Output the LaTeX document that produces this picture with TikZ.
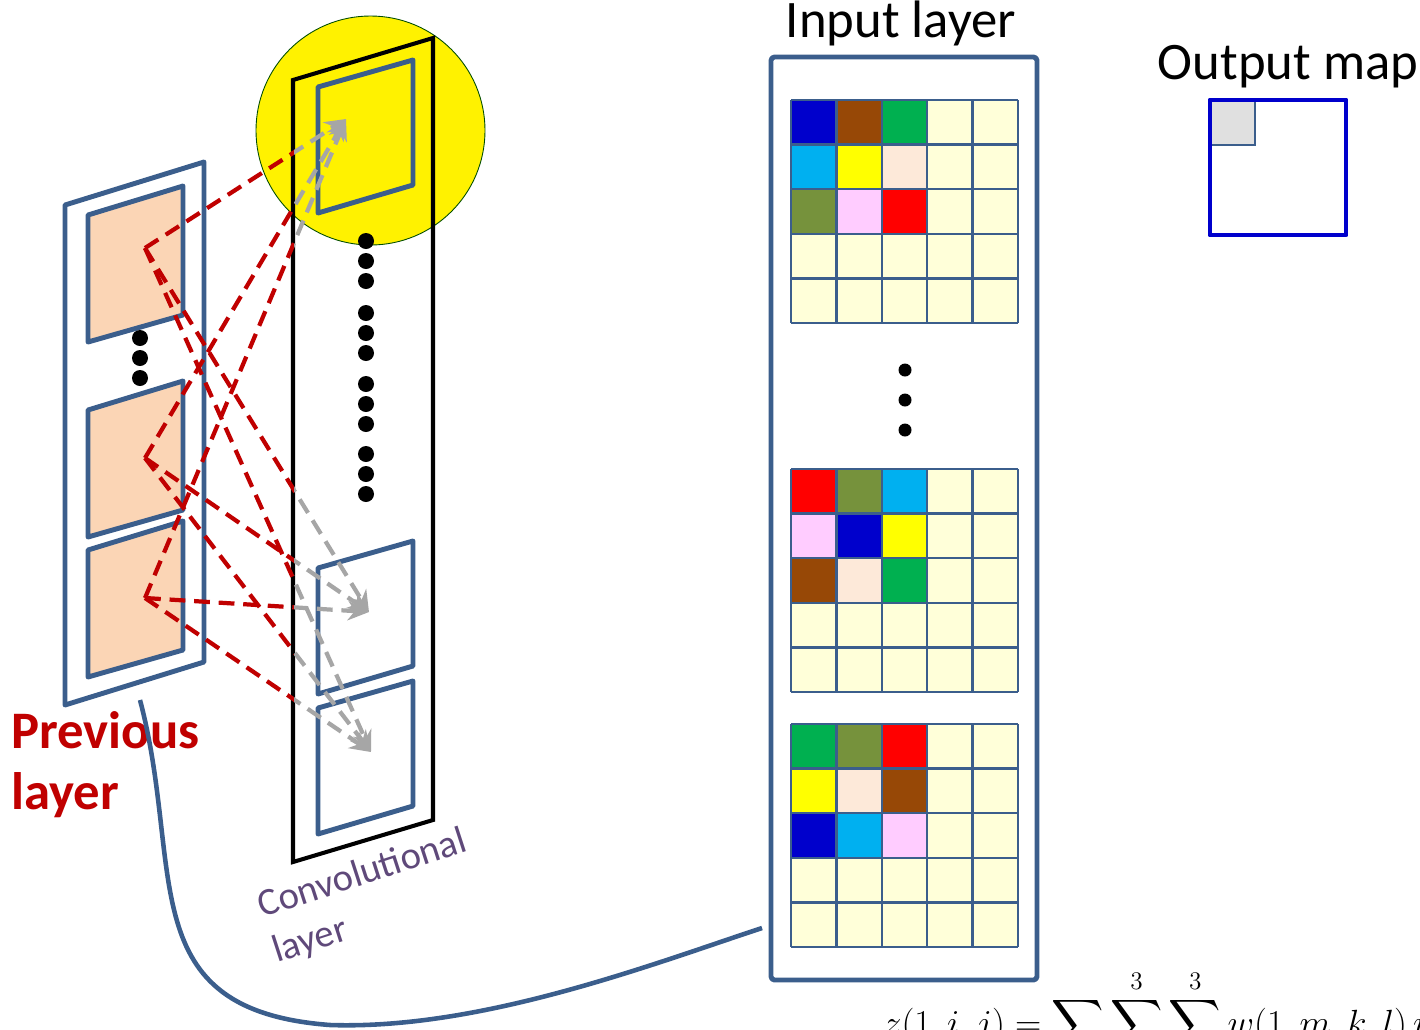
\documentclass[tikz,border=0pt]{standalone}
\usepackage{amsmath}
\usepackage{fontspec}
\setmainfont{Carlito}
\usetikzlibrary{arrows.meta}
\definecolor{slate}{RGB}{59,94,140}
\definecolor{darkred}{RGB}{192,0,0}
\definecolor{linkgray}{RGB}{166,166,166}
\definecolor{peach}{RGB}{251,213,181}
\definecolor{cream}{RGB}{255,255,217}
\definecolor{cblue}{RGB}{0,0,204}
\definecolor{cbrown}{RGB}{151,72,6}
\definecolor{cgreen}{RGB}{0,176,80}
\definecolor{ccyan}{RGB}{0,176,240}
\definecolor{cyellow}{RGB}{255,255,0}
\definecolor{cpeach}{RGB}{253,233,217}
\definecolor{colive}{RGB}{118,146,60}
\definecolor{cpink}{RGB}{255,204,255}
\definecolor{cred}{RGB}{255,0,0}
\definecolor{convtext}{RGB}{95,73,122}

\begin{document}
\begin{tikzpicture}[x=0.02cm,y=-0.02cm,
  frame/.style={draw=slate,line width=2.8pt,line join=round},
  convframe/.style={draw=black,line width=2.3pt,line join=miter},
  gridline/.style={draw=slate,line width=1.4pt},
  redlink/.style={draw=darkred,line width=2.4pt,dash pattern=on 9pt off 5pt},
  graylink/.style={draw=linkgray,line width=2.4pt,dash pattern=on 9pt off 5pt,
    -{Stealth[length=12pt,width=11pt]}},
  label/.style={font=\fontsize{30}{34}\selectfont,inner sep=0pt}]
\clip (0,0) rectangle (1420,1029);

% previous layer
\draw[frame] (65,205) -- (204,162) -- (204,662) -- (65,705) -- cycle;
\foreach \dy in {0,195,335}
  \draw[frame,fill=peach] (88,215+\dy) -- (183,186+\dy) -- (183,315+\dy) -- (88,342+\dy) -- cycle;
\foreach \y in {338,358,378}
  \fill (140,\y) circle (8);

% convolutional layer
\filldraw[fill=yellow,draw=black!70!green,line width=0.5pt] (370.5,130.5) circle (114.5);
\draw[convframe] (293,80) -- (433,38) -- (433,820) -- (293,862) -- cycle;
\draw[frame,fill=yellow] (318,87) -- (413,60) -- (413,185) -- (318,213) -- cycle;
\foreach \dy in {481,621}
  \draw[frame,fill=white] (318,87+\dy) -- (413,60+\dy) -- (413,185+\dy) -- (318,213+\dy) -- cycle;
\foreach \y in {241,261,281,313,333,353,384,404,424,454,474,494}
  \fill (366,\y) circle (8);

% links
\coordinate (p1) at (145,248);
\coordinate (p2) at (145,458);
\coordinate (p3) at (145,598);
\coordinate (t1) at (346,119);
\coordinate (t2) at (369,612);
\coordinate (t3) at (371,752);
\begin{scope}
  \clip (0,0) rectangle (294,1029);
  \foreach \s in {p1,p2,p3}
    \foreach \t in {t1,t2,t3}
      \draw[redlink] (\s) -- (\t);
\end{scope}
\begin{scope}
  \clip (294,0) rectangle (1420,1029);
  \foreach \s in {p1,p2,p3}
    \foreach \t in {t1,t2,t3}
      \draw[graylink] (\s) -- (\t);
\end{scope}

% input layer
\draw[frame,rounded corners=2pt] (771,57) rectangle (1037,980);
\foreach \oy/\cells in {100/{cblue,cbrown,cgreen,ccyan,cyellow,cpeach,colive,cpink,cred},
                        469/{cred,colive,ccyan,cpink,cblue,cyellow,cbrown,cpeach,cgreen},
                        724/{cgreen,colive,cred,cyellow,cpeach,cbrown,cblue,ccyan,cpink}} {
  \fill[cream] (791,\oy) rectangle (1018,\oy+223);
  \foreach \col [count=\i from 0] in \cells {
    \pgfmathtruncatemacro\cx{mod(\i,3)}
    \pgfmathtruncatemacro\cy{div(\i,3)}
    \fill[\col] (791+45.4*\cx,\oy+44.6*\cy) rectangle (836.4+45.4*\cx,\oy+44.6+44.6*\cy);
  }
  \foreach \k in {0,...,5} {
    \draw[gridline] (791+45.4*\k,\oy) -- (791+45.4*\k,\oy+223);
    \draw[gridline] (791,\oy+44.6*\k) -- (1018,\oy+44.6*\k);
  }
}
\foreach \y in {370,400,430}
  \fill (905,\y) circle (6.5);

% output map
\filldraw[fill=black!12,draw=slate,line width=1.4pt] (1210,100) rectangle (1255,145);
\draw[draw=cblue,line width=2.8pt,line join=round] (1210,100) rectangle (1346,235);

% labels
\node[label] (inlbl) at (901,23) {Input layer};
\node[label] (outlbl) at (1288,67) {Output map};
\node[label,font=\fontsize{30}{35}\selectfont\bfseries,text=darkred,align=left,anchor=north west]
  (prevlbl) at (11,711) {Previous\\layer};
\node[font=\fontsize{22}{27}\selectfont,text=convtext,align=left,anchor=north west,rotate=18,inner sep=0pt]
  (convlbl) at (254,892) {Convolutional\\layer};
\node[anchor=base west,inner sep=0pt,font=\fontsize{22.5}{27}\selectfont]
  (formula) at (883,1035) {$\displaystyle z(1,i,j)=\sum\sum^{3}\sum^{3}w(1,m,k,l)\,y(0,m,i+k,j+l)$};

% connection to input layer
\coordinate (cvS) at (140,700);
\coordinate (cvE) at (762,928);
\draw[slate,line width=2.6pt] (cvS) .. controls (185,870) and (130,1010) .. (330,1025)
  .. controls (480,1030) and (650,965) .. (cvE);
\end{tikzpicture}
\end{document}
